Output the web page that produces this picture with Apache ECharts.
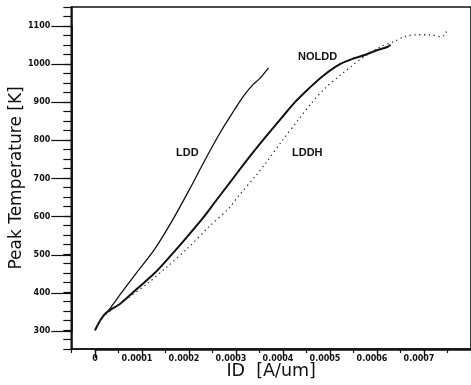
<!DOCTYPE html>
<html>
<head>
<meta charset="utf-8">
<script src="https://cdn.jsdelivr.net/npm/echarts/dist/echarts.min.js"></script>
<style>
  html, body { margin: 0; padding: 0; background: #fff; }
  #chart { width: 471px; height: 385px; }
</style>
</head>
<body>
<div id="chart"></div>
<script>
// [ID (A/um), peak temperature (K)]
const ldd = [
  [0, 302], [0.0000127, 331], [0.0000274, 352], [0.0000549, 398],
  [0.0000886, 453], [0.000127, 515], [0.000165, 591], [0.000200, 669],
  [0.000236, 753], [0.000268, 824], [0.000295, 877], [0.000316, 916],
  [0.000335, 945], [0.000352, 964], [0.000369, 990]
];
const noldd = [
  [0, 302], [0.0000127, 331], [0.0000232, 347], [0.0000549, 373],
  [0.0000907, 412], [0.000127, 452], [0.000162, 499], [0.000196, 547],
  [0.000228, 594], [0.000257, 641], [0.000291, 696], [0.000327, 754],
  [0.000363, 809], [0.000397, 859], [0.000426, 901], [0.000454, 935],
  [0.000485, 969], [0.000523, 1001], [0.000553, 1016], [0.000574, 1024],
  [0.000601, 1037], [0.000622, 1045], [0.000629, 1051]
];
const lddh = [
  [0, 302], [0.0000127, 331], [0.0000274, 348], [0.0000696, 386],
  [0.000112, 425], [0.000154, 469], [0.000198, 518], [0.000243, 574],
  [0.000285, 622], [0.000306, 655], [0.000342, 707], [0.000363, 740],
  [0.000397, 797], [0.000432, 853], [0.000460, 897], [0.000489, 936],
  [0.000523, 972], [0.000545, 994], [0.000573, 1020], [0.000608, 1046],
  [0.000636, 1059], [0.000658, 1072], [0.000686, 1077], [0.000714, 1077],
  [0.000735, 1072], [0.000745, 1077], [0.000749, 1094]
];
const seriesNames = ['LDD', 'NOLDD', 'LDDH'];
const xRange = [0, 0.0008];
const yRange = [300, 1100];

const black = '#111';
const tickFont = { fontFamily: 'DejaVu Sans', fontWeight: 'bold', fontSize: 8, color: black };

const chart = echarts.init(document.getElementById('chart'));

const option = {
  animation: false,
  backgroundColor: '#fff',
  grid: [
    // outer frame, a bit wider than the labelled range
    { left: 71.3, right: -3.2, top: 6.95, bottom: 34.95, show: true, borderColor: black, borderWidth: 1.6 },
    // data area: 300..1100 K, 0..0.0008 A/um
    { left: 95, right: -3.2, top: 26, bottom: 54 }
  ],
  xAxis: [
    {
      gridIndex: 0, type: 'value', min: -0.00005, max: 0.0008, interval: 0.00005,
      axisLine: { show: true, onZero: false, lineStyle: { color: black, width: 1.6 } },
      axisTick: { show: true, length: 4, lineStyle: { color: black, width: 1.2 } },
      axisLabel: { show: false },
      splitLine: { show: false },
      name: 'ID  [A/um]', nameLocation: 'middle', nameGap: 13,
      nameTextStyle: { fontFamily: 'DejaVu Sans', fontSize: 17.5, color: black }
    },
    {
      gridIndex: 1, type: 'value', min: xRange[0], max: xRange[1], interval: 0.0001,
      offset: 19,
      axisLine: { show: true, onZero: false, lineStyle: { color: black, width: 1.6 } },
      axisTick: { show: true, length: 8, lineStyle: { color: black, width: 1.3 } },
      axisLabel: {
        margin: 5, showMaxLabel: false,
        formatter: v => v === 0 ? '{z|0}' : '{n|' + v.toFixed(4) + '}',
        rich: { z: tickFont, n: Object.assign({ padding: [0, 10, 0, 0] }, tickFont) }
      },
      splitLine: { show: false }
    }
  ],
  yAxis: [
    {
      gridIndex: 0, type: 'value', min: 250, max: 1150, interval: 25,
      axisLine: { show: true, onZero: false, lineStyle: { color: black, width: 1.6 } },
      axisTick: { show: true, length: 8, lineStyle: { color: black, width: 1.2 } },
      axisLabel: { show: false },
      splitLine: { show: false },
      name: 'Peak Temperature [K]', nameLocation: 'middle', nameGap: 46,
      nameTextStyle: { fontFamily: 'DejaVu Sans', fontSize: 17, color: black }
    },
    {
      gridIndex: 1, type: 'value', min: yRange[0], max: yRange[1], interval: 100,
      offset: 23.7,
      axisLine: { show: true, onZero: false, lineStyle: { color: black, width: 1.6 } },
      axisTick: { show: true, length: 20, lineStyle: { color: black, width: 1.2 } },
      axisLabel: Object.assign({ margin: 21, formatter: v => String(v) }, tickFont),
      splitLine: { show: false }
    }
  ],
  series: [
    {
      name: seriesNames[0], type: 'line', xAxisIndex: 1, yAxisIndex: 1, data: ldd,
      showSymbol: false, smooth: 0.3, clip: false,
      lineStyle: { color: black, width: 1.3 }
    },
    {
      name: seriesNames[1], type: 'line', xAxisIndex: 1, yAxisIndex: 1, data: noldd,
      showSymbol: false, smooth: 0.3, clip: false,
      lineStyle: { color: black, width: 2 }
    },
    {
      name: seriesNames[2], type: 'line', xAxisIndex: 1, yAxisIndex: 1, data: lddh,
      showSymbol: false, smooth: 0.3, clip: false,
      lineStyle: { color: '#333', width: 1.3, type: [1.3, 3.5] }
    }
  ],
  graphic: [
    { type: 'text', left: 176, top: 147, style: { text: seriesNames[0], font: 'bold 11px "Liberation Sans"', fill: black } },
    { type: 'text', left: 298, top: 51, style: { text: seriesNames[1], font: 'bold 11px "Liberation Sans"', fill: black } },
    { type: 'text', left: 292, top: 147, style: { text: seriesNames[2], font: 'bold 11px "Liberation Sans"', fill: black } }
  ]
};

chart.setOption(option);
</script>
</body>
</html>
